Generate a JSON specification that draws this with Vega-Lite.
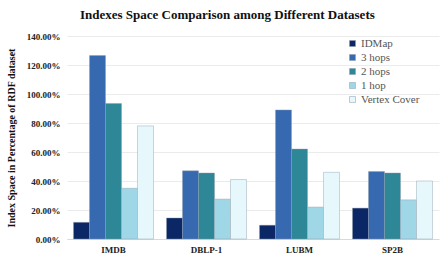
{
  "$schema": "https://vega.github.io/schema/vega-lite/v6.json",
  "width": 372,
  "height": 203,
  "autosize": "none",
  "padding": {"left": 67, "top": 36, "right": 2, "bottom": 29},
  "background": "white",
  "title": {
    "text": "Indexes Space Comparison among Different Datasets",
    "font": "Liberation Serif",
    "fontSize": 13,
    "fontWeight": "bold",
    "color": "#111",
    "anchor": "start",
    "frame": "group",
    "dx": 13,
    "offset": 10
  },
  "data": {
    "values": [
      {"dataset": "IMDB", "method": "IDMap", "value": 0.115},
      {"dataset": "IMDB", "method": "3 hops", "value": 1.265},
      {"dataset": "IMDB", "method": "2 hops", "value": 0.935},
      {"dataset": "IMDB", "method": "1 hop", "value": 0.35},
      {"dataset": "IMDB", "method": "Vertex Cover", "value": 0.78},
      {"dataset": "DBLP-1", "method": "IDMap", "value": 0.145},
      {"dataset": "DBLP-1", "method": "3 hops", "value": 0.47},
      {"dataset": "DBLP-1", "method": "2 hops", "value": 0.455},
      {"dataset": "DBLP-1", "method": "1 hop", "value": 0.275},
      {"dataset": "DBLP-1", "method": "Vertex Cover", "value": 0.41},
      {"dataset": "LUBM", "method": "IDMap", "value": 0.095},
      {"dataset": "LUBM", "method": "3 hops", "value": 0.89},
      {"dataset": "LUBM", "method": "2 hops", "value": 0.62},
      {"dataset": "LUBM", "method": "1 hop", "value": 0.22},
      {"dataset": "LUBM", "method": "Vertex Cover", "value": 0.46},
      {"dataset": "SP2B", "method": "IDMap", "value": 0.213},
      {"dataset": "SP2B", "method": "3 hops", "value": 0.465},
      {"dataset": "SP2B", "method": "2 hops", "value": 0.455},
      {"dataset": "SP2B", "method": "1 hop", "value": 0.27},
      {"dataset": "SP2B", "method": "Vertex Cover", "value": 0.40}
    ]
  },
  "mark": {"type": "bar", "stroke": "#8a9aa8", "strokeWidth": 0.6, "strokeOpacity": 0.7},
  "encoding": {
    "x": {
      "field": "dataset",
      "type": "nominal",
      "sort": ["IMDB", "DBLP-1", "LUBM", "SP2B"],
      "scale": {"paddingInner": 0.14, "paddingOuter": 0.07},
      "axis": {
        "title": null,
        "labelAngle": 0,
        "labelFont": "Liberation Serif",
        "labelFontWeight": "bold",
        "labelFontSize": 9,
        "labelColor": "#222",
        "labelPadding": 6,
        "ticks": false,
        "domainColor": "#d9d9d9"
      }
    },
    "xOffset": {
      "field": "method",
      "type": "nominal",
      "sort": ["IDMap", "3 hops", "2 hops", "1 hop", "Vertex Cover"],
      "scale": {"paddingInner": 0, "paddingOuter": 0}
    },
    "y": {
      "field": "value",
      "type": "quantitative",
      "scale": {"domain": [0, 1.4], "nice": false},
      "axis": {
        "title": "Index Space in Percentage of RDF dataset",
        "titleFont": "Liberation Serif",
        "titleFontSize": 10,
        "titleFontWeight": "bold",
        "titleColor": "#111",
        "titlePadding": 10,
        "format": ".2%",
        "values": [0, 0.2, 0.4, 0.6, 0.8, 1.0, 1.2, 1.4],
        "labelFont": "Liberation Serif",
        "labelFontWeight": "bold",
        "labelFontSize": 9,
        "labelColor": "#222",
        "labelPadding": 7,
        "ticks": false,
        "domain": false,
        "gridColor": "#ebebeb"
      }
    },
    "color": {
      "field": "method",
      "type": "nominal",
      "sort": ["IDMap", "3 hops", "2 hops", "1 hop", "Vertex Cover"],
      "scale": {
        "domain": ["IDMap", "3 hops", "2 hops", "1 hop", "Vertex Cover"],
        "range": ["#0b2766", "#3769b1", "#2e8797", "#a0d7e7", "#e6f8fc"]
      },
      "legend": {
        "title": null,
        "orient": "none",
        "legendX": 280,
        "legendY": 2,
        "symbolType": "square",
        "symbolSize": 36,
        "symbolStrokeColor": "#8a9aa8",
        "symbolStrokeWidth": 0.5,
        "labelFont": "Liberation Serif",
        "labelFontSize": 11,
        "labelColor": "#555",
        "labelOffset": 3,
        "rowPadding": 2
      }
    }
  },
  "config": {
    "view": {"stroke": null},
    "legend": {"labelFont": "Liberation Serif"}
  }
}
